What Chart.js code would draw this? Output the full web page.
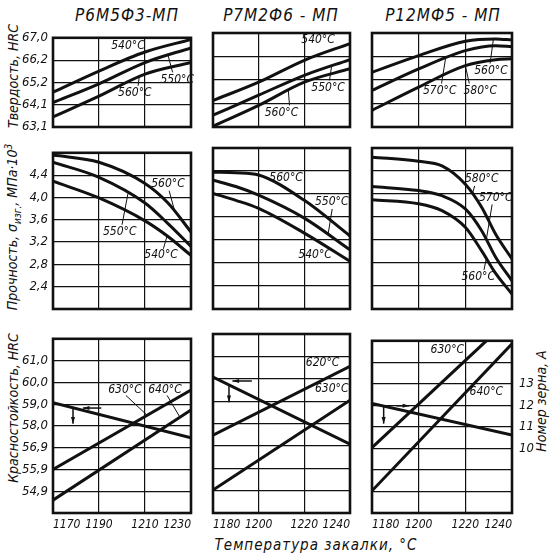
<!DOCTYPE html>
<html>
<head>
<meta charset="utf-8">
<script src="https://cdn.jsdelivr.net/npm/chart.js@4.4.0/dist/chart.umd.min.js"></script>
<style>
  body { margin: 0; width: 550px; height: 554px; position: relative; overflow: hidden; background: #fff;
         font-family: "DejaVu Sans Condensed", "DejaVu Sans", sans-serif; font-style: italic; color: #111; }
  canvas { position: absolute; }
  .t { position: absolute; white-space: nowrap; transform: translate(-50%, -50%); }
  .rot { transform: translate(-50%, -50%) rotate(-90deg); }
  sub, sup { font-size: 10px; }
</style>
</head>
<body>
<div class="t" style="left:127px;top:15px;font-size:17px;letter-spacing:1px">Р6М5Ф3-МП</div>
<div class="t" style="left:281px;top:15px;font-size:17px;letter-spacing:1px">Р7М2Ф6 - МП</div>
<div class="t" style="left:443px;top:15px;font-size:17px;letter-spacing:1px">Р12МФ5 - МП</div>
<div class="t rot" style="left:13px;top:76px;font-size:14px">Твердость, HRC</div>
<div class="t rot" style="left:13px;top:227px;font-size:14px">Прочность, σ<sub>изг.</sub>, МПа·10<sup>3</sup></div>
<div class="t rot" style="left:13px;top:408px;font-size:14px">Красностойкость, HRC</div>
<div class="t rot" style="left:541px;top:401px;font-size:14px">Номер зерна, А</div>
<div class="t" style="left:316px;top:545px;font-size:15px;letter-spacing:1px">Температура закалки, °С</div>
<script>
// tick values of the axes (equal spacing on the drawing, uneven values)
const hardTicks = [63.1, 64.1, 65.2, 66.2, 67.0]
const redHardTicks = [54.9, 55.9, 56.9, 58.0, 59.0, 60.0, 61.0]
const grainTicks = [10, 11, 12, 13]

// Р6М5Ф3-МП
const r6TempHard = [1170, 1190, 1210, 1230]
const r6Hard540 = [64.72, 65.71, 66.49, 66.94]
const r6Hard550 = [64.20, 65.13, 66.09, 66.64]
const r6Hard560 = [63.55, 64.52, 65.57, 66.09]
const r6TempStr = [1170, 1190, 1210, 1220, 1230]
const r6Str560 = [4.76, 4.63, 4.25, 3.90, 3.38]
const r6Str550 = [4.63, 4.36, 3.90, 3.53, 3.12]
const r6Str540 = [4.29, 3.99, 3.58, 3.30, 2.96]
const r6TempRed = [1170, 1230]
const r6Red630 = [55.9, 59.65]
const r6Red640 = [54.49, 58.73]
const r6Grain = [12.06, 10.45]

// Р7М2Ф6-МП
const r7TempHard = [1180, 1200, 1220, 1240]
const r7Hard540 = [64.24, 65.10, 66.04, 66.64]
const r7Hard550 = [63.60, 64.49, 65.40, 66.07]
const r7Hard560 = [63.13, 64.02, 65.10, 65.68]
const r7TempStr = [1180, 1190, 1200, 1220, 1240]
const r7Str560 = [4.38, 4.37, 4.33, 3.89, 3.27]
const r7Str550 = [4.24, 4.13, 3.98, 3.58, 3.03]
const r7Str540 = [4.01, 3.89, 3.75, 3.32, 2.83]
const r7TempRed = [1180, 1240]
const r7Red620 = [57.43, 60.56]
const r7Red630 = [54.93, 59.04]
const r7Grain = [13.07, 10.08]

// Р12МФ5-МП
const r12TempHard = [1180, 1200, 1220, 1233, 1240]
const r12Hard560 = [65.53, 66.23, 66.72, 66.80, 66.76]
const r12Hard570 = [64.71, 65.67, 66.40, 66.57, 66.54]
const r12Hard580 = [63.81, 64.87, 65.81, 66.06, 66.10]
const r12TempStr = [1180, 1200, 1210, 1220, 1227, 1233, 1240]
const r12Str580 = [4.64, 4.57, 4.49, 4.17, 3.77, 3.30, 2.87]
const r12Str570 = [4.13, 4.06, 3.97, 3.74, 3.36, 2.90, 2.49]
const r12Str560 = [3.90, 3.83, 3.71, 3.42, 3.01, 2.62, 2.26]
const r12TempRed630 = [1180, 1229]
const r12Red630 = [56.94, 62.0]
const r12TempRed640 = [1180, 1240]
const r12Red640 = [54.93, 61.86]
const r12TempGrain = [1180, 1240]
const r12Grain = [12.09, 10.62]

const ink = '#111'
const FONT = '"DejaVu Sans Condensed", "DejaVu Sans", sans-serif'

// position of a value on an unevenly labelled axis
const toPos = (ticks, offset) => v => {
    let i = 0
    while (i < ticks.length - 2 && v > ticks[i + 1]) i++
    return offset + i + (v - ticks[i]) / (ticks[i + 1] - ticks[i])
}
const hardPos = toPos(hardTicks, 0)
const redPos = toPos(redHardTicks, 1)
const same = v => v

const cols = [
    { x: 53, w: 138, min: 1170, max: 1230 },
    { x: 213, w: 137, min: 1180, max: 1240 },
    { x: 372, w: 140, min: 1180, max: 1240 }
]
const rows = [
    { y: 33, h: 94, min: 0, max: 4, step: 1, label: v => hardTicks[v] !== undefined ? hardTicks[v].toFixed(1).replace('.', ',') : '' },
    { y: 148, h: 161, min: 2.0, max: 4.8, step: 0.4, label: v => (v > 2.2 && v < 4.6) ? v.toFixed(1).replace('.', ',') : '' },
    { y: 334, h: 179, min: 0, max: 8, step: 1, label: v => redHardTicks[v - 1] !== undefined ? redHardTicks[v - 1].toFixed(1).replace('.', ',') : '' }
]

const line = (xs, ys, conv, axis, curved) => ({
    data: xs.map((x, i) => ({ x, y: conv(ys[i]) })),
    yAxisID: axis || 'y',
    cubicInterpolationMode: curved ? 'monotone' : 'default',
    tension: 0
})

const notesPlugin = {
    id: 'notes',
    afterDatasetsDraw(chart, args, opts) {
        const { ctx } = chart
        const x = chart.scales.x, y = chart.scales.y
        const px = v => x.getPixelForValue(v), py = v => y.getPixelForValue(v)
        ctx.save()
        ctx.strokeStyle = ink
        ctx.fillStyle = ink
        ctx.font = 'italic 12px ' + FONT
        ctx.textAlign = 'center'
        ctx.textBaseline = 'middle'
        ;(opts.notes || []).forEach(n => {
            if (n.from) {
                ctx.lineWidth = 1
                ctx.beginPath()
                ctx.moveTo(px(n.from[0]), py(n.from[1]))
                ctx.lineTo(px(n.to[0]), py(n.to[1]))
                ctx.stroke()
            }
            ctx.fillText(n.t, px(n.x), py(n.y))
        })
        ;(opts.arrows || []).forEach(a => {
            const x1 = px(a[0]), y1 = py(a[1]), x2 = px(a[2]), y2 = py(a[3])
            const ang = Math.atan2(y2 - y1, x2 - x1)
            ctx.lineWidth = 1.5
            ctx.beginPath()
            ctx.moveTo(x1, y1)
            ctx.lineTo(x2, y2)
            ctx.stroke()
            ctx.beginPath()
            ctx.moveTo(x2, y2)
            ctx.lineTo(x2 - 7 * Math.cos(ang - 0.3), y2 - 7 * Math.sin(ang - 0.3))
            ctx.lineTo(x2 - 7 * Math.cos(ang + 0.3), y2 - 7 * Math.sin(ang + 0.3))
            ctx.closePath()
            ctx.fill()
        })
        ctx.restore()
    },
    afterDraw(chart) {
        const { ctx, chartArea: a } = chart
        ctx.save()
        ctx.strokeStyle = ink
        ctx.lineWidth = 2.6
        ctx.strokeRect(a.left, a.top, a.right - a.left, a.bottom - a.top)
        ctx.restore()
    }
}

function panel(col, row, datasets, notes, arrows) {
    const c = cols[col], r = rows[row]
    const canvas = document.createElement('canvas')
    canvas.width = c.w + 45 + 35
    canvas.height = r.h + 8 + 22
    canvas.style.left = (c.x - 45) + 'px'
    canvas.style.top = (r.y - 8) + 'px'
    document.body.appendChild(canvas)
    const font = { family: FONT, size: 13, style: 'italic' }
    datasets.forEach(d => { d.borderColor = ink; d.borderWidth = 3; d.pointRadius = 0 })

    new Chart(canvas.getContext('2d'), {
        type: 'line',
        data: { datasets },
        options: {
            responsive: false,
            animation: false,
            layout: { autoPadding: false, padding: { top: 8 } },
            plugins: {
                legend: { display: false },
                tooltip: { enabled: false },
                notes: { notes, arrows }
            },
            scales: {
                x: {
                    type: 'linear', min: c.min, max: c.max,
                    afterFit: s => { s.height = 22 },
                    border: { display: false },
                    grid: { color: ink, lineWidth: 1.2, drawTicks: false },
                    ticks: { display: row === 2, stepSize: 20, padding: 5, align: 'inner',
                             font: { family: FONT, size: 12, style: 'italic' }, color: ink,
                             autoSkip: false, maxRotation: 0, callback: v => String(v) }
                },
                y: {
                    type: 'linear', min: r.min, max: r.max,
                    afterFit: s => { s.width = 45 },
                    border: { display: false },
                    grid: { color: ink, lineWidth: 1.2, drawTicks: false },
                    ticks: { display: col === 0, stepSize: r.step, padding: 5, font, color: ink, autoSkip: false, callback: r.label }
                },
                y2: {
                    type: 'linear', position: 'right', min: 7, max: 15,
                    afterFit: s => { s.width = 35 },
                    border: { display: false },
                    grid: { display: false, drawTicks: false },
                    ticks: { display: col === 2 && row === 2, stepSize: 1, padding: 7, font, color: ink, autoSkip: false,
                             callback: v => grainTicks.includes(v) ? v : '' }
                }
            }
        },
        plugins: [notesPlugin]
    })
}

// row 1: hardness
panel(0, 0, [
    line(r6TempHard, r6Hard540, hardPos, 'y', true),
    line(r6TempHard, r6Hard550, hardPos, 'y', true),
    line(r6TempHard, r6Hard560, hardPos, 'y', true)
], [
    { t: '540°С', x: 1202.6, y: 3.62 },
    { t: '550°С', x: 1224, y: 2.13, from: [1222, 2.45], to: [1220, 3.22] },
    { t: '560°С', x: 1205.6, y: 1.53, from: [1207, 1.85], to: [1207.5, 2.25] }
])
panel(1, 0, [
    line(r7TempHard, r7Hard540, hardPos, 'y', true),
    line(r7TempHard, r7Hard550, hardPos, 'y', true),
    line(r7TempHard, r7Hard560, hardPos, 'y', true)
], [
    { t: '540°С', x: 1226, y: 3.70 },
    { t: '550°С', x: 1230.4, y: 1.66, from: [1231, 1.98], to: [1232, 2.62] },
    { t: '560°С', x: 1210, y: 0.6, from: [1213.5, 0.92], to: [1213, 1.56] }
])
panel(2, 0, [
    line(r12TempHard, r12Hard560, hardPos, 'y', true),
    line(r12TempHard, r12Hard570, hardPos, 'y', true),
    line(r12TempHard, r12Hard580, hardPos, 'y', true)
], [
    { t: '560°С', x: 1231, y: 2.38, from: [1230.6, 2.7], to: [1232, 3.72] },
    { t: '570°С', x: 1209, y: 1.53, from: [1209.8, 1.85], to: [1211.5, 2.9] },
    { t: '580°С', x: 1226.4, y: 1.53, from: [1221.7, 1.85], to: [1220, 2.61] }
])

// row 2: bending strength
panel(0, 1, [
    line(r6TempStr, r6Str560, same, 'y', true),
    line(r6TempStr, r6Str550, same, 'y', true),
    line(r6TempStr, r6Str540, same, 'y', true)
], [
    { t: '560°С', x: 1220, y: 4.24, from: [1220.5, 4.12], to: [1223, 3.74] },
    { t: '550°С', x: 1199, y: 3.39, from: [1200, 3.51], to: [1202.6, 4.07] },
    { t: '540°С', x: 1217, y: 2.97, from: [1218, 3.08], to: [1219.6, 3.31] }
])
panel(1, 1, [
    line(r7TempStr, r7Str560, same, 'y', true),
    line(r7TempStr, r7Str550, same, 'y', true),
    line(r7TempStr, r7Str540, same, 'y', true)
], [
    { t: '560°С', x: 1212, y: 4.28 },
    { t: '550°С', x: 1232, y: 3.86, from: [1232.2, 3.74], to: [1230.4, 3.3] },
    { t: '540°С', x: 1224.7, y: 2.94 }
])
panel(2, 1, [
    line(r12TempStr, r12Str580, same, 'y', true),
    line(r12TempStr, r12Str570, same, 'y', true),
    line(r12TempStr, r12Str560, same, 'y', true)
], [
    { t: '580°С', x: 1227, y: 4.26, from: [1224, 4.14], to: [1223, 4.0] },
    { t: '570°С', x: 1233, y: 3.93, from: [1231.5, 3.82], to: [1229, 3.21] },
    { t: '560°С', x: 1225.5, y: 2.56, from: [1228, 2.68], to: [1229, 2.88] }
])

// row 3: red hardness and grain number
panel(0, 2, [
    line(r6TempRed, r6Red630, redPos),
    line(r6TempRed, r6Red640, redPos),
    line(r6TempRed, r6Grain, same, 'y2')
], [
    { t: '630°С', x: 1201.3, y: 5.67, from: [1201.7, 5.4], to: [1210.9, 4.49] },
    { t: '640°С', x: 1218.7, y: 5.67, from: [1219.6, 5.4], to: [1225.2, 4.4] }
], [
    [1191, 4.82, 1183, 4.82],
    [1178.7, 4.83, 1178.7, 4.1]
])
panel(1, 2, [
    line(r7TempRed, r7Red620, redPos),
    line(r7TempRed, r7Red630, redPos),
    line(r7TempRed, r7Grain, same, 'y2')
], [
    { t: '620°С', x: 1228, y: 6.7 },
    { t: '630°С', x: 1232, y: 5.54 }
], [
    [1197, 5.9, 1188.5, 5.9],
    [1187, 5.7, 1187, 4.95]
])
panel(2, 2, [
    line(r12TempRed630, r12Red630, redPos),
    line(r12TempRed640, r12Red640, redPos),
    line(r12TempGrain, r12Grain, same, 'y2')
], [
    { t: '630°С', x: 1212.3, y: 7.59 },
    { t: '640°С', x: 1229, y: 5.63 }
], [
    [1190.5, 4.98, 1196, 4.98],
    [1185, 4.97, 1185, 4.15]
])
</script>
</body>
</html>
